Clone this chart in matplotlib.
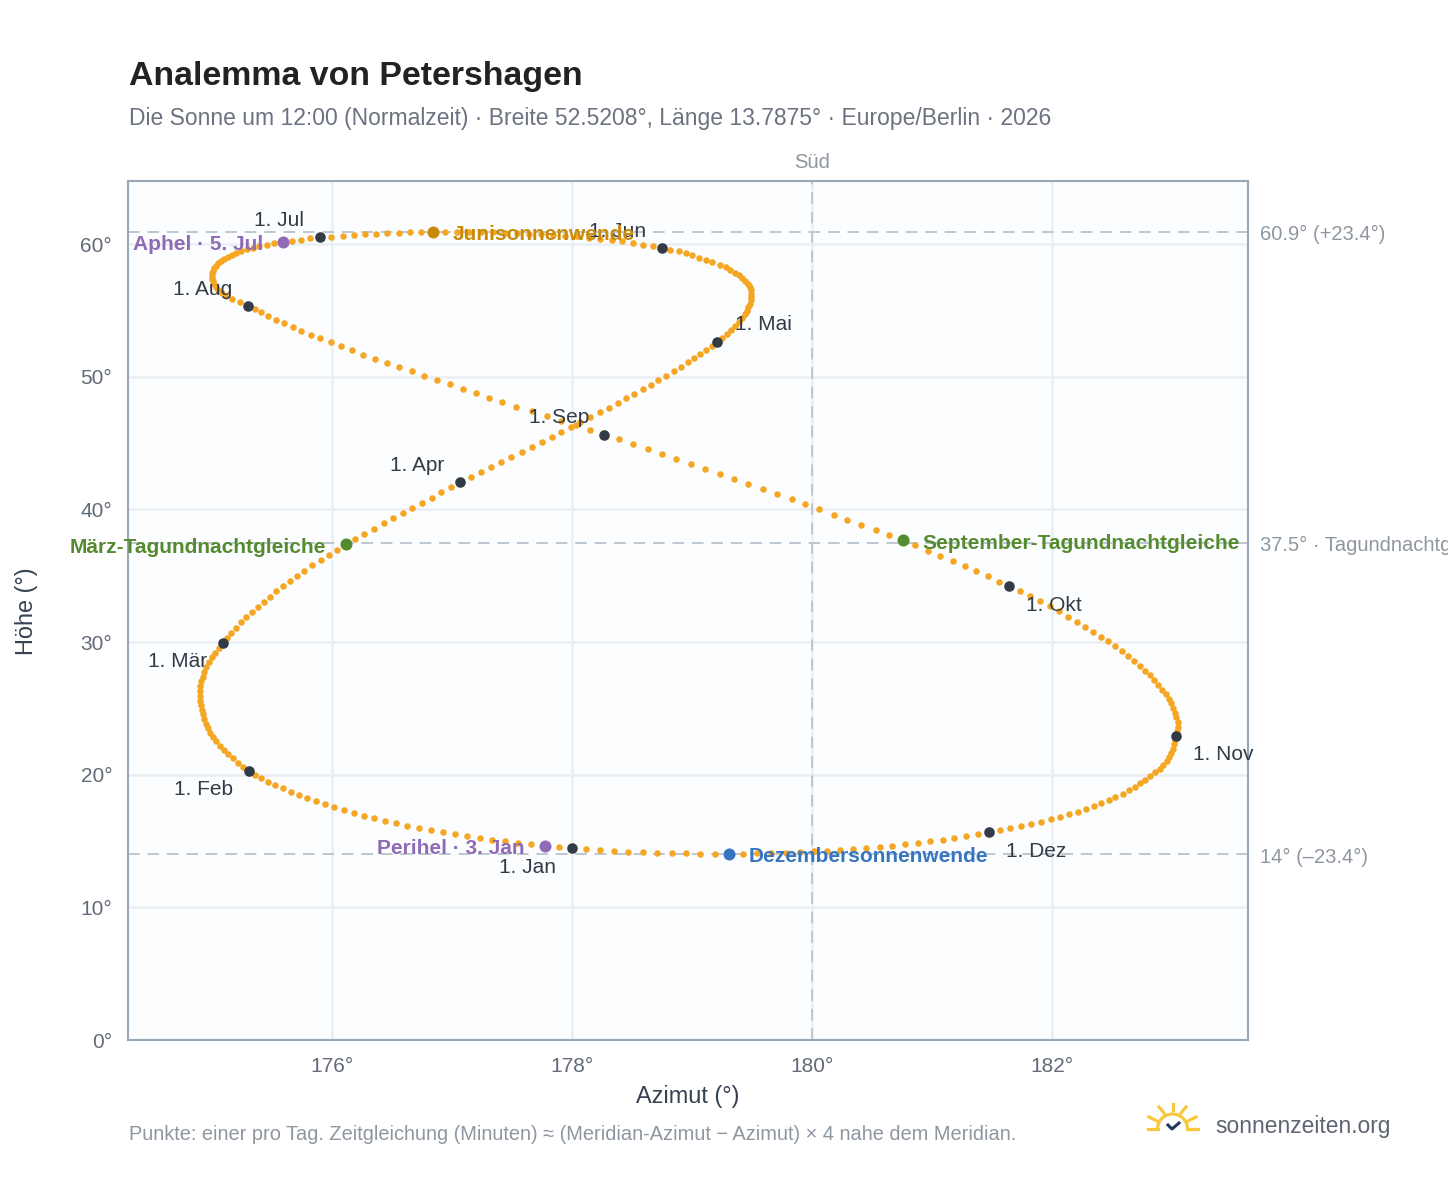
import matplotlib
matplotlib.use("Agg")
import matplotlib.pyplot as plt
from matplotlib.lines import Line2D
from matplotlib.patches import Arc

plt.rcParams['font.family'] = ['Liberation Sans', 'DejaVu Sans']

# one value per day, one row per month
azimuth = [
    178.0, 177.894, 177.772, 177.661, 177.55, 177.442, 177.336, 177.231, 177.125, 177.022, 176.922, 176.822, 176.725, 176.628, 176.533, 176.442, 176.353, 176.267, 176.183, 176.1, 176.019, 175.942, 175.867, 175.794, 175.722, 175.656, 175.589, 175.528, 175.467, 175.411, 175.361,
    175.308, 175.258, 175.214, 175.172, 175.133, 175.097, 175.064, 175.033, 175.006, 174.983, 174.964, 174.947, 174.933, 174.922, 174.914, 174.908, 174.903, 174.9, 174.9, 174.903, 174.911, 174.922, 174.936, 174.953, 174.972, 174.997, 175.025, 175.056,
    175.09, 175.125, 175.16, 175.2, 175.24, 175.285, 175.33, 175.38, 175.43, 175.48, 175.535, 175.59, 175.65, 175.71, 175.77, 175.835, 175.905, 175.975, 176.045, 176.12, 176.195, 176.27, 176.35, 176.43, 176.51, 176.59, 176.67, 176.75, 176.83, 176.91, 176.99,
    177.07, 177.155, 177.24, 177.325, 177.41, 177.495, 177.58, 177.665, 177.75, 177.83, 177.91, 177.99, 178.07, 178.15, 178.23, 178.305, 178.38, 178.45, 178.52, 178.59, 178.655, 178.72, 178.785, 178.85, 178.91, 178.97, 179.02, 179.07, 179.12, 179.165,
    179.21, 179.25, 179.29, 179.325, 179.36, 179.39, 179.415, 179.44, 179.455, 179.47, 179.48, 179.49, 179.495, 179.495, 179.49, 179.48, 179.465, 179.445, 179.42, 179.39, 179.36, 179.32, 179.28, 179.23, 179.17, 179.12, 179.06, 179.0, 178.95, 178.89, 178.82,
    178.75, 178.675, 178.595, 178.51, 178.42, 178.33, 178.235, 178.14, 178.04, 177.94, 177.84, 177.74, 177.64, 177.54, 177.44, 177.34, 177.24, 177.14, 177.04, 176.94, 176.84, 176.745, 176.65, 176.555, 176.46, 176.37, 176.275, 176.18, 176.09, 175.995,
    175.9, 175.82, 175.74, 175.665, 175.59, 175.52, 175.455, 175.395, 175.34, 175.29, 175.245, 175.2, 175.165, 175.13, 175.1, 175.075, 175.05, 175.03, 175.015, 175.005, 175.0, 175.0, 175.0, 175.005, 175.015, 175.03, 175.05, 175.08, 175.12, 175.17, 175.23,
    175.3, 175.357, 175.408, 175.467, 175.533, 175.6, 175.672, 175.742, 175.825, 175.9, 175.988, 176.075, 176.167, 176.262, 176.358, 176.46, 176.56, 176.665, 176.77, 176.875, 176.98, 177.09, 177.2, 177.31, 177.42, 177.535, 177.67, 177.79, 177.91, 178.03, 178.15,
    178.27, 178.39, 178.51, 178.63, 178.75, 178.87, 178.99, 179.11, 179.23, 179.35, 179.47, 179.59, 179.71, 179.83, 179.945, 180.06, 180.18, 180.295, 180.41, 180.53, 180.645, 180.757, 180.859, 180.966, 181.07, 181.174, 181.272, 181.368, 181.463, 181.555,
    181.644, 181.73, 181.817, 181.9, 181.984, 182.061, 182.135, 182.207, 182.275, 182.34, 182.406, 182.469, 182.525, 182.582, 182.635, 182.686, 182.73, 182.772, 182.814, 182.85, 182.885, 182.918, 182.948, 182.972, 182.993, 183.01, 183.025, 183.037, 183.046, 183.049, 183.043,
    183.03, 183.022, 183.013, 183.004, 182.993, 182.978, 182.954, 182.927, 182.897, 182.862, 182.82, 182.775, 182.734, 182.689, 182.641, 182.588, 182.528, 182.475, 182.412, 182.35, 182.284, 182.213, 182.141, 182.067, 181.99, 181.909, 181.826, 181.74, 181.653, 181.564,
    181.472, 181.379, 181.281, 181.186, 181.088, 180.984, 180.88, 180.775, 180.668, 180.564, 180.451, 180.341, 180.234, 180.123, 180.013, 179.9, 179.781, 179.662, 179.543, 179.427, 179.308, 179.19, 179.07, 178.95, 178.83, 178.71, 178.59, 178.47, 178.35, 178.235, 178.12,
]
altitude = [
    14.45, 14.55, 14.65, 14.75, 14.86, 14.98, 15.1, 15.23, 15.37, 15.51, 15.66, 15.82, 15.99, 16.16, 16.34, 16.52, 16.71, 16.91, 17.12, 17.33, 17.55, 17.77, 18.0, 18.23, 18.47, 18.71, 18.96, 19.21, 19.47, 19.73, 20.0,
    20.3, 20.6, 20.91, 21.22, 21.54, 21.86, 22.18, 22.51, 22.84, 23.17, 23.51, 23.85, 24.19, 24.54, 24.89, 25.24, 25.59, 25.95, 26.31, 26.67, 27.03, 27.4, 27.77, 28.14, 28.5, 28.85, 29.2, 29.55,
    29.92, 30.31, 30.7, 31.09, 31.48, 31.87, 32.26, 32.65, 33.04, 33.43, 33.82, 34.21, 34.61, 35.0, 35.39, 35.79, 36.18, 36.58, 36.97, 37.37, 37.76, 38.16, 38.55, 38.94, 39.33, 39.72, 40.11, 40.5, 40.89, 41.28, 41.67,
    42.06, 42.44, 42.83, 43.21, 43.59, 43.97, 44.35, 44.72, 45.1, 45.47, 45.84, 46.21, 46.57, 46.94, 47.3, 47.65, 48.01, 48.36, 48.71, 49.06, 49.4, 49.74, 50.08, 50.41, 50.74, 51.07, 51.39, 51.71, 52.03, 52.34,
    52.65, 52.95, 53.25, 53.55, 53.84, 54.13, 54.41, 54.69, 54.96, 55.23, 55.5, 55.76, 56.01, 56.26, 56.5, 56.74, 56.97, 57.2, 57.42, 57.64, 57.85, 58.05, 58.25, 58.44, 58.62, 58.8, 58.98, 59.14, 59.3, 59.45, 59.58,
    59.7, 59.83, 59.96, 60.08, 60.19, 60.3, 60.4, 60.49, 60.57, 60.64, 60.7, 60.75, 60.79, 60.83, 60.86, 60.88, 60.9, 60.91, 60.92, 60.92, 60.91, 60.9, 60.88, 60.85, 60.81, 60.77, 60.72, 60.66, 60.6, 60.55,
    60.5, 60.42, 60.34, 60.25, 60.16, 60.06, 59.95, 59.84, 59.72, 59.6, 59.47, 59.33, 59.18, 59.03, 58.87, 58.71, 58.54, 58.36, 58.18, 57.99, 57.8, 57.6, 57.4, 57.19, 56.98, 56.76, 56.54, 56.31, 56.08, 55.84, 55.6,
    55.36, 55.1, 54.84, 54.57, 54.3, 54.02, 53.74, 53.46, 53.17, 52.88, 52.58, 52.28, 51.98, 51.67, 51.36, 51.05, 50.73, 50.41, 50.08, 49.75, 49.42, 49.09, 48.75, 48.41, 48.07, 47.73, 47.38, 47.03, 46.68, 46.33, 45.98,
    45.63, 45.27, 44.91, 44.54, 44.17, 43.8, 43.43, 43.05, 42.67, 42.29, 41.91, 41.53, 41.15, 40.77, 40.38, 40.0, 39.61, 39.22, 38.84, 38.45, 38.06, 37.67, 37.28, 36.89, 36.5, 36.11, 35.72, 35.33, 34.94, 34.55,
    34.2, 33.82, 33.44, 33.06, 32.68, 32.3, 31.92, 31.54, 31.16, 30.79, 30.41, 30.04, 29.67, 29.3, 28.93, 28.56, 28.2, 27.84, 27.48, 27.12, 26.77, 26.42, 26.07, 25.72, 25.38, 25.04, 24.68, 24.33, 23.98, 23.63, 23.28,
    22.94, 22.61, 22.29, 21.97, 21.66, 21.35, 21.05, 20.75, 20.46, 20.17, 19.89, 19.62, 19.35, 19.09, 18.83, 18.58, 18.34, 18.1, 17.87, 17.65, 17.43, 17.22, 17.02, 16.83, 16.64, 16.46, 16.29, 16.12, 15.96, 15.81,
    15.66, 15.51, 15.37, 15.23, 15.1, 14.98, 14.87, 14.76, 14.66, 14.57, 14.49, 14.41, 14.34, 14.28, 14.22, 14.17, 14.13, 14.1, 14.07, 14.05, 14.04, 14.04, 14.05, 14.06, 14.08, 14.11, 14.15, 14.19, 14.24, 14.3, 14.36,
]

month_days = [0, 31, 59, 90, 120, 151, 181, 212, 243, 273, 304, 334]
month_names = ['1. Jan', '1. Feb', '1. Mär', '1. Apr', '1. Mai', '1. Jun',
               '1. Jul', '1. Aug', '1. Sep', '1. Okt', '1. Nov', '1. Dez']
# label offset from the point, in pixels
month_dx = [-16, -16, -16, -16, 18, -16, -16, -16, -15, 17, 17, 17]
month_dy = [-19, -19, -18, 17, 17, 16, 17, 16, 17, -19, -19, -19]

event_names = ['Perihel · 3. Jan', 'März-Tagundnachtgleiche', 'Junisonnenwende',
               'Aphel · 5. Jul', 'September-Tagundnachtgleiche', 'Dezembersonnenwende']
event_days = [2, 78, 171, 185, 264, 354]
event_colors = ['#8F6BB5', '#558B2F', '#C98A0A', '#8F6BB5', '#558B2F', '#3776BE']
event_side = [-1, -1, 1, -1, 1, 1]

ref_altitudes = [60.9, 37.5, 14.0]
ref_labels = ['60.9° (+23.4°)', '37.5° · Tagundnachtgleiche', '14° (–23.4°)']
x_ticks = [176, 178, 180, 182]
y_ticks = [0, 10, 20, 30, 40, 50, 60]

W, H = 1448, 1188
fig = plt.figure(figsize=(W / 100, H / 100), dpi=100, facecolor='white')
ax = fig.add_axes([128 / W, (H - 1040) / H, 1120 / W, 859 / H], facecolor='#FBFDFF')
ax.set_xlim(174.3, 183.633)
ax.set_ylim(0, 64.75)

ax.set_xticks(x_ticks)
ax.set_xticklabels([f'{v}°' for v in x_ticks])
ax.set_yticks(y_ticks)
ax.set_yticklabels([f'{v}°' for v in y_ticks])
ax.tick_params(length=0, labelsize=15, labelcolor='#626B78')
ax.tick_params(axis='x', pad=12)
ax.tick_params(axis='y', pad=11.4)
ax.grid(color='#EAEFF4', linewidth=1.8)
ax.set_axisbelow(True)
for s in ax.spines.values():
    s.set_color('#9AA7B5')
    s.set_linewidth(1.5)

for alt, lab in zip(ref_altitudes, ref_labels):
    ax.axhline(alt, color='#BCC7D1', lw=1.4, dashes=(6, 4), zorder=1.5)
    ax.annotate(lab, (1, alt), xycoords=('axes fraction', 'data'), xytext=(8.6, -2),
                textcoords='offset points', va='center', fontsize=14.5,
                color='#8E96A0', annotation_clip=False)
ax.axvline(180, color='#BCC7D1', lw=1.4, dashes=(6, 4), zorder=1.5)
ax.annotate('Süd', (180, 1), xycoords=('data', 'axes fraction'), xytext=(0, 13),
            textcoords='offset points', ha='center', va='center', fontsize=14.5, color='#8E96A0')

ax.scatter(azimuth, altitude, s=22, color='#F5A623', linewidths=0, zorder=3)

ax.scatter([azimuth[d] for d in month_days], [altitude[d] for d in month_days],
           s=58, color='#333B47', linewidths=0, zorder=4)
for d, name, dx, dy in zip(month_days, month_names, month_dx, month_dy):
    ax.annotate(name, (azimuth[d], altitude[d]), xytext=(dx * 0.72, dy * 0.72),
                textcoords='offset points', ha='left' if dx > 0 else 'right', va='center',
                fontsize=15, color='#333B47', zorder=6, annotation_clip=False)

for name, d, col, side in zip(event_names, event_days, event_colors, event_side):
    ax.scatter(azimuth[d], altitude[d], s=75, color=col, linewidths=0, zorder=5)
    ax.annotate(name, (azimuth[d], altitude[d]), xytext=(side * 20 * 0.72, -2),
                textcoords='offset points', ha='left' if side > 0 else 'right', va='center',
                fontsize=15, fontweight='bold', color=col, zorder=6, annotation_clip=False)

fig.text(688 / W, 1 - 1097 / H, 'Azimut (°)', ha='center', va='center', fontsize=16.9, color='#374151')
fig.text(27 / W, 1 - 611 / H, 'Höhe (°)', rotation=90, ha='center', va='center', fontsize=16.9, color='#374151')
fig.text(129 / W, 1 - 76 / H, 'Analemma von Petershagen', ha='left', va='center',
         fontsize=24.4, fontweight='bold', color='#222222')
fig.text(129 / W, 1 - 118 / H, 'Die Sonne um 12:00 (Normalzeit) · Breite 52.5208°, Länge 13.7875° · Europe/Berlin · 2026',
         ha='left', va='center', fontsize=16.5, color='#6B7280')
fig.text(129 / W, 1 - 1134 / H, 'Punkte: einer pro Tag. Zeitgleichung (Minuten) ≈ (Meridian-Azimut − Azimut) × 4 nahe dem Meridian.',
         ha='left', va='center', fontsize=14.45, color='#8E96A0')
fig.text(1215 / W, 1 - 1127 / H, 'sonnenzeiten.org', ha='left', va='center', fontsize=16.4, color='#5E6472')

# logo, drawn in pixel coordinates
over = fig.add_axes([0, 0, 1, 1], facecolor='none')
over.set_xlim(0, W)
over.set_ylim(H, 0)
over.axis('off')
sun = '#F9C73C'
over.add_patch(Arc((1172.5, 1129), 30, 30, theta1=180, theta2=360, color=sun, lw=2.3))
rays = [((1172.5, 1104), (1172.5, 1110)), ((1159, 1107), (1164, 1113)), ((1186, 1107), (1181, 1113)),
        ((1149, 1117), (1157, 1121)), ((1196, 1117), (1188, 1121)),
        ((1148, 1129), (1158, 1129)), ((1187, 1129), (1198, 1129))]
for a, b in rays:
    over.add_line(Line2D([a[0], b[0]], [a[1], b[1]], color=sun, lw=2.3))
over.add_line(Line2D([1168, 1172, 1179], [1125, 1129, 1123], color='#1F3A5F', lw=2.2))

fig.savefig('out.png', dpi=100, facecolor='white')
